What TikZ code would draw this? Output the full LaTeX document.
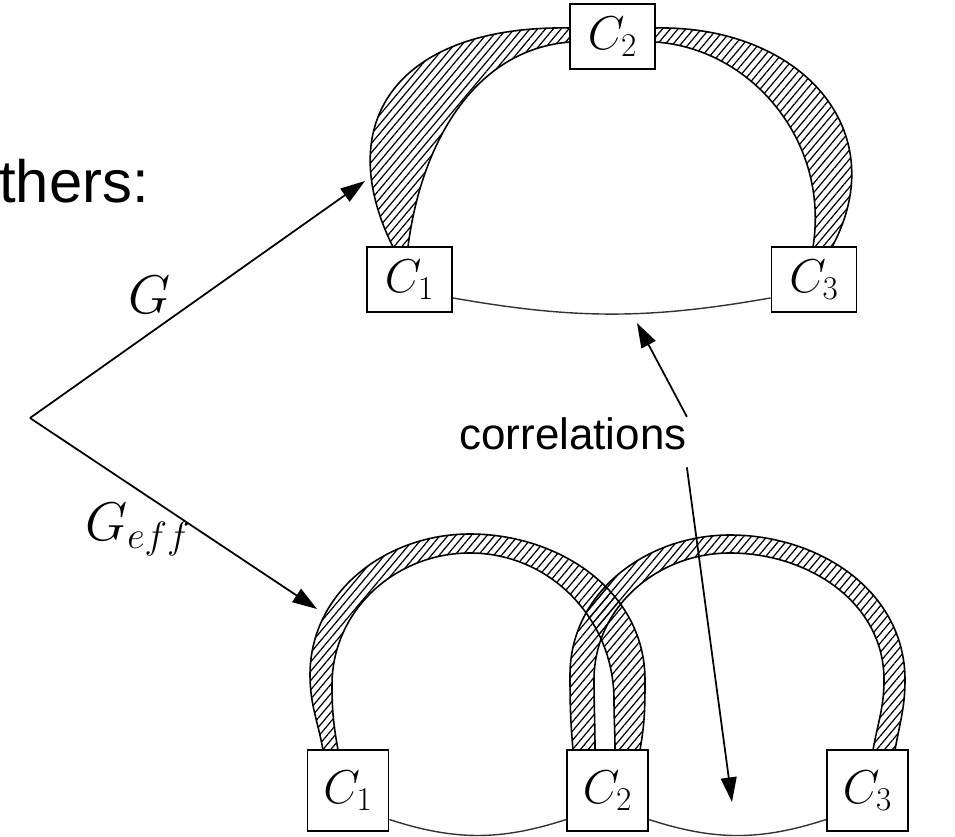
\RequirePackage{fix-cm}
\documentclass[tikz,border=0pt]{standalone}
\usepackage{fontspec}
\usepackage{amsmath}
\newfontfamily\arialfont{Liberation Sans}
\usetikzlibrary{arrows.meta,patterns.meta}
\tikzset{
  cbox/.style={draw, fill=white, line width=1.1pt, inner sep=0pt,
               font={\fontsize{27}{32}\selectfont}},
  gbox/.style={cbox, minimum width=17mm, minimum height=13mm},
  ebox/.style={cbox, minimum width=16.2mm, minimum height=16.2mm},
  band/.style={draw, line width=0.9pt,
               pattern={Lines[angle=50, distance=3.4pt, line width=0.7pt]}},
  corrarc/.style={draw=black!80, line width=0.8pt},
  arr/.style={-{Triangle[length=14pt, width=9pt]}, line width=1pt},
  mathlabel/.style={font={\fontsize{31}{36}\selectfont}, inner sep=0pt},
  textlabel/.style={font={\arialfont\fontsize{25}{30}\selectfont}, inner sep=0pt, anchor=base},
}

\begin{document}
\begin{tikzpicture}[x=0.2mm, y=-0.2mm]
    \useasboundingbox (0,0) rectangle (955,837);
    \node[textlabel, anchor=base west, font={\arialfont\fontsize{34}{40}\selectfont}] (others) at (-1,203) {thers:};

    % G
    \node[gbox] (g1) at (409.5,279.5) {$C_1$};
    \node[gbox] (g2) at (612.5,36.5) {$C_2$};
    \node[gbox] (g3) at (814,279.5) {$C_3$};
    \draw[band] (393,247) .. controls (330,120) and (400,25) .. (570,28) -- (570,42)
                .. controls (470,50) and (420,150) .. (408,247) -- cycle;
    \draw[band] (655,28) .. controls (800,25) and (895,130) .. (832,247) -- (813,247)
                .. controls (830,140) and (750,48) .. (655,42) -- cycle;
    \draw[corrarc] (g1.-23) to[bend right=10] (g3.203);

    % G_eff
    \node[ebox] (e1) at (348,790.5) {$C_1$};
    \node[ebox] (e2) at (607.5,790.5) {$C_2$};
    \node[ebox] (e3) at (867.5,790.5) {$C_3$};
    \draw[band] (323,750) to[out=100,in=-90] (310,675) to[out=90,in=180] (470,534)
                to[out=0,in=90] (645,680) to[out=-90,in=80] (640,750) -- (615,750)
                to[out=90,in=-90] (614,700) to[out=90,in=0] (470,553)
                to[out=180,in=90] (332,685) to[out=-90,in=100] (338,750) -- cycle;
    \draw[band] (573,750) to[out=95,in=-90] (570,675) to[out=90,in=180] (730,535)
                to[out=0,in=90] (905,680) to[out=-90,in=80] (895,750) -- (873,750)
                to[out=80,in=-90] (884,680) to[out=90,in=0] (730,553)
                to[out=180,in=90] (594,680) to[out=-90,in=90] (595,750) -- cycle;
    \draw[corrarc] (e1.-35) to[bend right=18] (e2.215);
    \draw[corrarc] (e2.-35) to[bend right=18] (e3.215);

    \coordinate (root) at (30,418);
    \coordinate (gtip) at (365,181);
    \coordinate (efftip) at (317,609);
    \draw[arr] (root) -- (gtip);
    \draw[arr] (root) -- (efftip);
    \node[mathlabel] (glabel) at (150,295) {$G$};
    \node[mathlabel] (efflabel) at (138,530) {$G_{eff}$};

    \node[textlabel] (corr) at (573,449) {correlations};
    \coordinate (uptip) at (637,323);
    \coordinate (downtip) at (732,802);
    \draw[arr] (corr.north east) -- (uptip);
    \draw[arr] ([yshift=-10pt]corr.south east) -- (downtip);
  \end{tikzpicture}
\end{document}
